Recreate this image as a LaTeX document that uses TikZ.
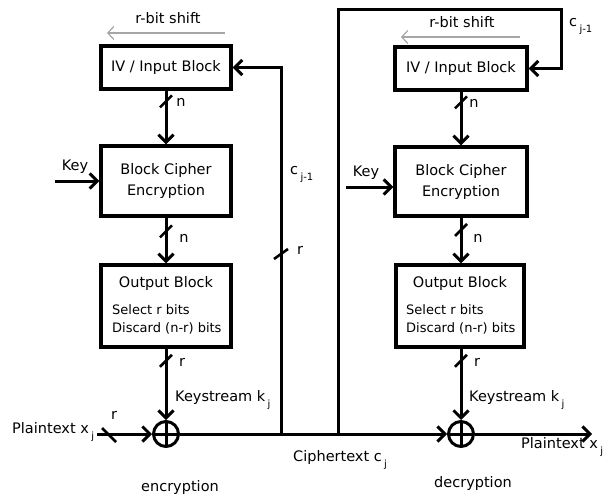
\documentclass[tikz,border=0pt]{standalone}
\usepackage{fontspec}
\setmainfont{DejaVu Sans}
\usetikzlibrary{arrows.meta}
\newcommand{\lowsub}[1]{\raisebox{-6pt}{\fontsize{10}{12}\selectfont #1}}
\begin{document}
\begin{tikzpicture}[x=1pt,y=-1pt,
  font=\fontsize{14.5}{17}\selectfont,
  box/.style={draw, line width=3.3pt, inner sep=0pt, align=center, minimum width=130pt,
    font=\fontsize{14.5}{21}\selectfont},
  conn/.style={draw, line width=3pt},
  tip/.style={-{Straight Barb[length=7.5pt,width=15pt]}},
  tick/.style={line width=2.6pt},
  shiftarr/.style={draw=gray!70, line width=1.2pt, -{Straight Barb[length=6pt,width=13pt]}},
  xorst/.style={circle, draw, line width=3pt, minimum size=25pt, inner sep=0pt,
    path picture={\draw[line width=3pt] (path picture bounding box.north) -- (path picture bounding box.south)
      (path picture bounding box.west) -- (path picture bounding box.east);}},
  lbl/.style={inner sep=0pt},
  small/.style={inner sep=0pt, anchor=west, font=\fontsize{13}{15}\selectfont},
]
\useasboundingbox (0,0) rectangle (608,495);

% ---------- encryption column ----------
\node[lbl] (shE) at (168,18) {r-bit shift};
\coordinate (shEa) at (225,33);
\coordinate (shEb) at (107,33);
\draw[shiftarr] (shEa) -- (shEb);

\node[box, minimum height=43pt] (ivE) at (166,67.5) {IV / Input Block};
\node[box, minimum height=70pt] (bcE) at (166,181) {Block Cipher\\Encryption};
\node[box, minimum height=82pt] (obE) at (166,306) {};
\node[lbl] (obEt) at (166,283) {Output Block};
\node[small] (obEs1) at (112,310) {Select r bits};
\node[small] (obEs2) at (112,328) {Discard (n-r) bits};
\node[xorst] (xE) at (166,434) {};

\draw[conn,tip] (ivE) -- coordinate[pos=0.2] (tE1) (bcE);
\draw[tick] (tE1) +(-6,6) -- +(6,-6);
\node[lbl] (nE1) at (181,102) {n};

\draw[conn,tip] (bcE) -- coordinate[pos=0.3] (tE2) (obE);
\draw[tick] (tE2) +(-6,6) -- +(6,-6);
\node[lbl] (nE2) at (184,238) {n};

\draw[conn,tip] (obE) -- coordinate[pos=0.17] (tE3) (xE);
\draw[tick] (tE3) +(-6,6) -- +(6,-6);
\node[lbl] (rE3) at (182,362) {r};

\node[lbl, anchor=west] (ksE) at (175,400) {Keystream k\,\lowsub{j}};

\node[lbl] (keyE) at (75,167) {Key};
\coordinate (kE) at (55,181);
\draw[conn,tip] (kE) -- (bcE.west);

\node[lbl, anchor=west] (ptE) at (12,432) {Plaintext x\,\lowsub{j}};
\coordinate (pE) at (97,434);
\draw[conn,tip] (pE) -- (xE);
\coordinate (tP) at (109,435);
\draw[tick] (tP) +(-7,-7) -- +(7,7);
\node[lbl] (rP) at (114,415) {r};

% ---------- decryption column ----------
\node[lbl] (shD) at (462,22) {r-bit shift};
\coordinate (shDa) at (520,37);
\coordinate (shDb) at (401,37);
\draw[shiftarr] (shDa) -- (shDb);

\node[box, minimum height=43pt, minimum width=132pt] (ivD) at (461,68.5) {IV / Input Block};
\node[box, minimum height=69pt, minimum width=132pt] (bcD) at (461,181.5) {Block Cipher\\Encryption};
\node[box, minimum height=82pt, minimum width=128pt] (obD) at (460,306) {};
\node[lbl] (obDt) at (460,283) {Output Block};
\node[small] (obDs1) at (406,310) {Select r bits};
\node[small] (obDs2) at (406,328) {Discard (n-r) bits};
\node[xorst] (xD) at (461,434) {};

\draw[conn,tip] (ivD) -- coordinate[pos=0.2] (tD1) (bcD);
\draw[tick] (tD1) +(-6,6) -- +(6,-6);
\node[lbl] (nD1) at (474,103) {n};

\draw[conn,tip] (bcD.south -| xD) -- coordinate[pos=0.27] (tD2) (obD.north -| xD);
\draw[tick] (tD2) +(-6,6) -- +(6,-6);
\node[lbl] (nD2) at (478,238) {n};

\draw[conn,tip] (obD.south -| xD) -- coordinate[pos=0.17] (tD3) (xD);
\draw[tick] (tD3) +(-6,6) -- +(6,-6);
\node[lbl] (rD3) at (477,362) {r};

\node[lbl, anchor=west] (ksD) at (469,400) {Keystream k\,\lowsub{j}};

\node[lbl] (keyD) at (366,173) {Key};
\coordinate (kD) at (346,187);
\draw[conn,tip] (kD) -- (bcD.west |- kD);

\node[lbl, anchor=base west] (cD) at (569,27) {c\,\lowsub{j-1}};

\coordinate (oD) at (592,434);
\draw[conn,tip] (xD) -- (oD);
\node[lbl, anchor=west] (ptD) at (521,447) {Plaintext x\,\lowsub{j}};

% ---------- feedback and ciphertext ----------
\coordinate (jE) at (281,434);
\coordinate (jD) at (338,434);
\draw[conn,tip] (xE) -- (xD);
\draw[conn,tip] (jE) |- (ivE.east);
\coordinate (tF) at (281,254);
\draw[tick] (tF) +(-7,5) -- +(7,-5);
\node[lbl] (rF) at (300,250) {r};
\node[lbl, anchor=base west] (cE) at (290,174) {c\,\lowsub{j-1}};

\coordinate (tl) at (338,10);
\coordinate (tr) at (561,10);
\draw[conn,tip] (jD) -- (tl) -- (tr) |- (ivD.east);

\node[lbl, anchor=west] (ctx) at (293,460) {Ciphertext c\,\lowsub{j}};
\node[lbl] (encL) at (180,487) {encryption};
\node[lbl] (decL) at (473,483) {decryption};
\end{tikzpicture}
\end{document}
